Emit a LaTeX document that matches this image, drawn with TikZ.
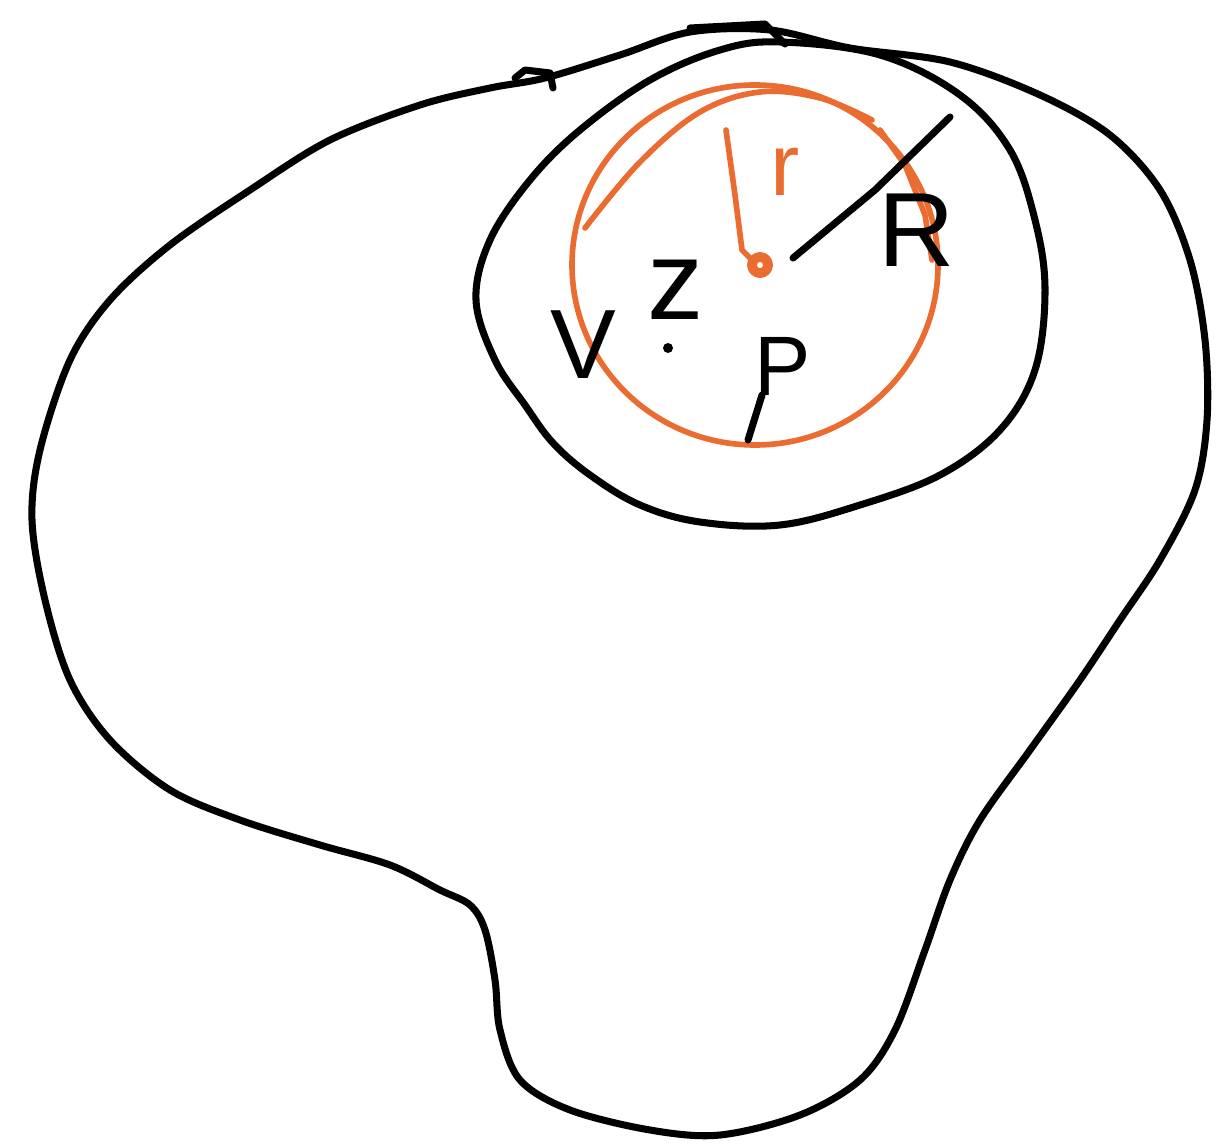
\documentclass[tikz,border=0pt]{standalone}
\usepackage{fontspec}
\setmainfont{Liberation Sans}
\usetikzlibrary{calc}
\definecolor{sketchorange}{RGB}{234,108,48}
\tikzset{
  ink/.style={line width=2pt, line cap=round, line join=round, black},
  oink/.style={line width=1.6pt, line cap=round, line join=round, sketchorange},
  lbl/.style={inner sep=0pt, font=\fontsize{28}{28}\selectfont},
}
\begin{document}
\begin{tikzpicture}[x=0.01cm, y=-0.01cm]
\useasboundingbox[fill=white] (0,0) rectangle (1219,1143);
% outer region
\draw[ink] plot[smooth cycle, tension=0.55] coordinates {
 (690,32) (770,30) (850,48) (950,62) (1040,95) (1110,135) (1160,190) (1190,260)
 (1205,340) (1207,420) (1195,490) (1160,560) (1120,620) (1080,680) (1030,750)
 (980,820) (950,880) (925,950) (895,1030) (860,1080) (800,1115) (720,1135)
 (650,1130) (570,1110) (520,1080) (500,1030) (495,980) (485,930) (470,905)
 (440,890) (390,865) (320,845) (240,820) (170,790) (110,740) (70,680) (45,600)
 (32,520) (40,450) (70,360) (110,300) (170,245) (250,190) (330,140) (420,105)
 (490,88) (545,78) (620,55)};
\draw[ink] (515,78) -- (525,70) -- (550,73) -- (553,88);
\draw[ink] (690,28) -- (765,24) -- (785,44);
% inner region
\draw[ink] plot[smooth cycle, tension=0.6] coordinates {
 (780,42) (880,55) (960,95) (1010,150) (1035,220) (1045,290) (1035,370)
 (1000,430) (940,475) (860,505) (780,525) (700,522) (640,505) (590,475)
 (553,443) (525,405) (495,360) (476,300) (490,240) (530,180) (580,130)
 (650,80) (720,50)};
% orange ball
\draw[oink] (755,265) ellipse [x radius=183, y radius=180];
\draw[oink] plot[smooth, tension=0.6] coordinates {
 (585,228) (640,162) (700,112) (760,92) (820,98) (872,120)};
\draw[oink] (880,130) -- (905,165) -- (925,215) -- (932,260);
% centre
\coordinate (c) at (760,265);
\draw[oink, line width=2.8pt] (c) circle (8);
\coordinate (rtop) at (726,130);
\draw[oink] (rtop) -- (735,195) -- (742,250) -- (752,260);
\node[lbl, text=sketchorange, font=\fontsize{25}{25}\selectfont] (r) at (785,172) {r};
% R radius
\coordinate (Rend) at (950,117);
\draw[ink] (793,258) -- (875,190) -- (Rend);
\node[lbl, font=\fontsize{30}{30}\selectfont] (R) at (917,230) {R};
% labels
\node[lbl] (V) at (583,345) {V};
\node[lbl, font=\fontsize{32}{32}\selectfont] (z) at (676,290) {z};
\coordinate (zdot) at (668,348);
\fill (zdot) circle (5);
\node[lbl, font=\fontsize{24}{24}\selectfont, anchor=base west] (P) at (754,395) {P};
\coordinate (Pfoot) at (748,440);
\draw[ink] (Pfoot) -- ($(P.base west)+(8,0)$);
\end{tikzpicture}
\end{document}
